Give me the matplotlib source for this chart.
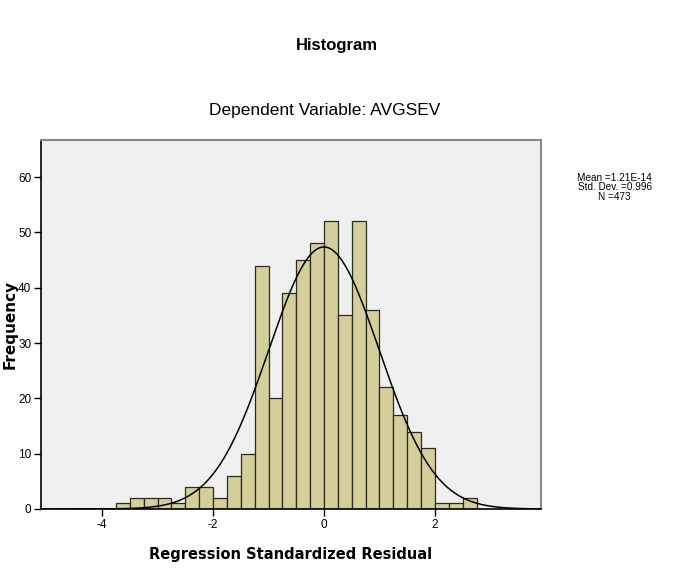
import numpy as np
import matplotlib
matplotlib.use('Agg')
import matplotlib.pyplot as plt

plt.rcParams['axes.unicode_minus'] = False

# bin left edges (width 0.25) and counts
bin_edges = [-3.75, -3.5, -3.25, -3.0, -2.75, -2.5, -2.25, -2.0, -1.75, -1.5,
             -1.25, -1.0, -0.75, -0.5, -0.25, 0.0, 0.25, 0.5, 0.75, 1.0,
             1.25, 1.5, 1.75, 2.0, 2.25, 2.5]
counts = [1, 2, 2, 2, 1, 4, 4, 2, 6, 10,
          44, 20, 39, 45, 48, 52, 35, 52, 36, 22,
          17, 14, 11, 1, 1, 2]
bin_width = 0.25
mean = 1.21e-14
std = 0.996
n = 473

fig = plt.figure(figsize=(6.77, 5.71), dpi=100)
ax = fig.add_axes([0.0606, 0.1086, 0.7384, 0.6462])
ax.set_facecolor('#f0f0f0')

ax.bar(bin_edges, counts, width=bin_width, align='edge',
       color='#d3ce9a', edgecolor='#2a2a22', linewidth=0.9)

# normal curve scaled to counts
xs = np.linspace(-5.1, 3.91, 400)
pdf = n * bin_width / (std * np.sqrt(2 * np.pi)) * np.exp(-0.5 * ((xs - mean) / std) ** 2)
ax.plot(xs, pdf, color='black', linewidth=1.1)

ax.set_xlim(-5.1, 3.91)
ax.set_ylim(0, 66.7)
ax.set_xticks([-4, -2, 0, 2])
ax.set_yticks([0, 10, 20, 30, 40, 50, 60])
ax.tick_params(axis='both', direction='out', length=5, width=1,
               labelsize=8.5, colors='black', pad=2)
for lab in ax.get_xticklabels() + ax.get_yticklabels():
    lab.set_family('Liberation Sans')

for s in ['left', 'bottom']:
    ax.spines[s].set_color('black')
    ax.spines[s].set_linewidth(1.2)
for s in ['top', 'right']:
    ax.spines[s].set_color('#888888')
    ax.spines[s].set_linewidth(1.5)

ax.set_xlabel('Regression Standardized Residual', fontsize=10.5, fontweight='bold',
              family='DejaVu Sans', labelpad=12)
ax.set_ylabel('Frequency', fontsize=11, fontweight='bold', family='DejaVu Sans')
ax.yaxis.set_label_coords(-0.046, 0.5)

fig.text(0.498, 0.921, 'Histogram', ha='center', va='center', fontsize=12,
         fontweight='bold', family='Liberation Sans')
fig.text(0.48, 0.807, 'Dependent Variable: AVGSEV', ha='center', va='center',
         fontsize=12.5, family='Liberation Sans')

fig.text(0.908, 0.672, 'Mean =1.21E-14\nStd. Dev. =0.996\nN =473',
         ha='center', va='center', fontsize=7.2, family='Liberation Sans',
         linespacing=0.95)

fig.savefig('out.png', dpi=100, facecolor='white')
